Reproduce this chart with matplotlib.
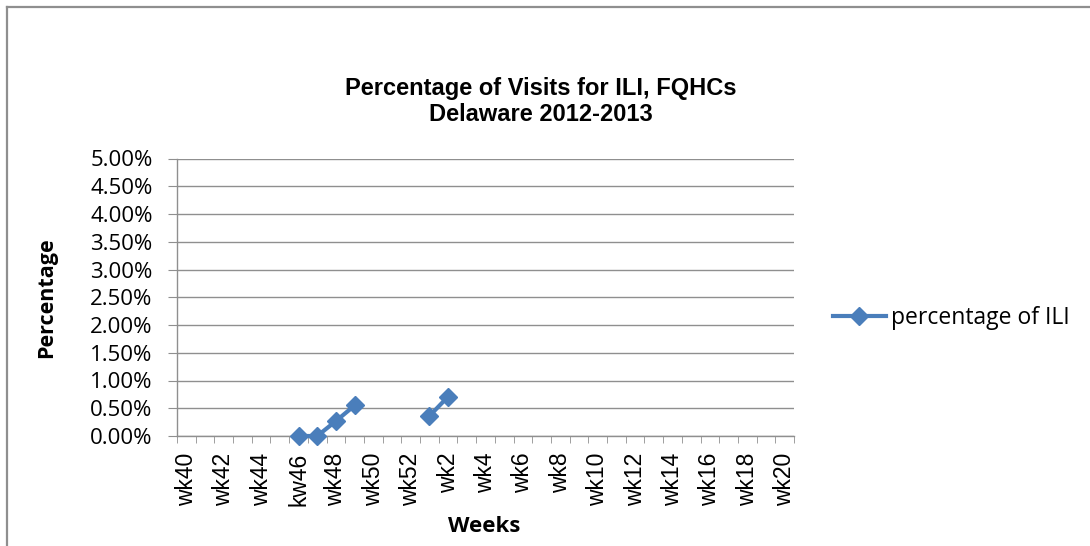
import matplotlib
matplotlib.use("Agg")
import matplotlib.pyplot as plt
import numpy as np
from matplotlib.lines import Line2D

weeks = [f"wk{i}" for i in range(40, 53)] + [f"wk{i}" for i in range(1, 21)]
tick_labels = ["wk40", "wk42", "wk44", "kw46", "wk48", "wk50", "wk52", "wk2", "wk4",
               "wk6", "wk8", "wk10", "wk12", "wk14", "wk16", "wk18", "wk20"]
# percentage of ILI (fraction), NaN = no data
values = {"wk46": 0.0, "wk47": 0.0, "wk48": 0.0027, "wk49": 0.0055,
          "wk50": np.nan, "wk51": np.nan, "wk52": np.nan,
          "wk1": 0.0036, "wk2": 0.0071}
series = [values.get(w, np.nan) for w in weeks]
yticks = [0.0, 0.005, 0.01, 0.015, 0.02, 0.025, 0.03, 0.035, 0.04, 0.045, 0.05]

W, H = 1090, 546
fig = plt.figure(figsize=(W / 100, H / 100), dpi=100)
frame_kw = dict(transform=fig.transFigure, color="#8f8f8f", linewidth=1.6)
fig.lines.append(Line2D([7 / W, 1.0], [1 - 6.5 / H, 1 - 6.5 / H], **frame_kw))
fig.lines.append(Line2D([7 / W, 7 / W], [0, 1 - 6.5 / H], **frame_kw))

ax = fig.add_axes([177 / W, 1 - 436 / H, (794 - 177) / W, (436 - 158.5) / H])
x = np.arange(len(weeks))
ax.plot(x, series, color="#4a7ebb", linewidth=3, marker="D", markersize=8.7,
        markerfacecolor="#4a7ebb", markeredgecolor="#4a7ebb", label="percentage of ILI",
        zorder=3, clip_on=False)

ax.set_xlim(-0.5, len(weeks) - 0.5)
ax.set_ylim(0, 0.05)
ax.set_yticks(yticks)
ax.set_yticklabels([f"{v*100:.2f}%" for v in yticks], fontfamily="Open Sans", fontsize=16)
ax.yaxis.grid(True, color="#8f8f8f", linewidth=1.0)
ax.set_axisbelow(True)

ax.set_xticks(x[::2])
ax.set_xticklabels(tick_labels, rotation=90, fontfamily="Liberation Sans", fontsize=16.5)
ax.set_xticks(np.arange(-0.5, len(weeks), 1), minor=True)
ax.tick_params(axis="x", which="major", length=0, pad=12)
ax.tick_params(axis="x", which="minor", length=5, color="#8f8f8f", direction="out")
ax.tick_params(axis="y", length=6.5, color="#8f8f8f", pad=11)

for s in ["top", "right"]:
    ax.spines[s].set_visible(False)
for s in ["left", "bottom"]:
    ax.spines[s].set_color("#8f8f8f")
    ax.spines[s].set_linewidth(1.0)

ax.set_ylabel("Percentage", fontfamily="Open Sans", fontweight="bold", fontsize=15.5,
              va="center")
ax.yaxis.set_label_coords((47 - 177) / 617, 0.5)
ax.set_xlabel("Weeks", fontfamily="Open Sans", fontweight="bold", fontsize=16, va="center")
ax.xaxis.set_label_coords((484 - 177) / 617, (436 - 527) / 277.5)

fig.text(541 / W, 1 - 101.5 / H, "Percentage of Visits for ILI, FQHCs\nDelaware 2012-2013",
         ha="center", va="center", fontfamily="Liberation Sans", fontweight="bold",
         fontsize=17, linespacing=1.15)

leg = ax.legend(loc="center left", bbox_to_anchor=(833 / W, 1 - 318 / H),
                bbox_transform=fig.transFigure, frameon=False,
                prop={"family": "Open Sans", "size": 16.5}, handlelength=2.3,
                handletextpad=0.25, borderpad=0, borderaxespad=0)

fig.savefig("out.png", dpi=100)
